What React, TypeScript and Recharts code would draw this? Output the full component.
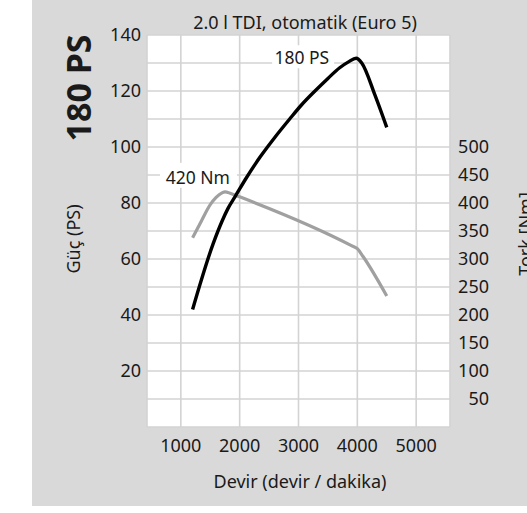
import { LineChart, Line, XAxis, YAxis, CartesianGrid, LabelList } from "recharts";

const title = "2.0 l TDI, otomatik (Euro 5)";
const badge = "180 PS";
const xLabel = "Devir (devir / dakika)";
const leftLabel = "Güç (PS)";
const rightLabel = "Tork [Nm]";

const rpmTicks = [1000, 2000, 3000, 4000, 5000];
const psTicks = [0, 10, 20, 30, 40, 50, 60, 70, 80, 90, 100, 110, 120, 130, 140];
const nmTicks = [50, 100, 150, 200, 250, 300, 350, 400, 450, 500];

const powerRpm = [1200, 1550, 1700, 1800, 1920, 2120, 2350, 2600, 2850, 3050, 3280, 3500, 3700, 3850, 3980, 4075, 4300, 4500];
const powerPs = [42, 65.5, 73.5, 78, 82.2, 89.2, 96.5, 103.5, 110, 115, 120, 124.5, 128.3, 130.4, 131.7, 130, 118.5, 107];
const powerPeakLabel = "180 PS";
const powerPeakIdx = 14;

const torqueRpm = [1200, 1350, 1500, 1600, 1700, 1750, 1850, 2000, 3900, 4000, 4100, 4500];
const torqueNm = [338, 368, 397, 410, 418, 420, 417, 411, 324, 318.5, 304, 234];
const torquePeakLabel = "420 Nm";
const torquePeakIdx = 5;

const powerData = powerRpm.map((rpm, i) => ({ rpm, ps: powerPs[i] }));
const torqueData = torqueRpm.map((rpm, i) => ({ rpm, nm: torqueNm[i] }));

const font = "'Noto Sans', sans-serif";
const ink = "#1a1a1a";

const LeftTick = (props: any) => {
  const v = props.payload.value;
  if (v === 0 || v % 20 !== 0) return <g />;
  return (
    <text x={props.x} y={props.y} dy="0.355em" textAnchor="end" fontSize={18} fontFamily={font} fill={ink}>
      {v}
    </text>
  );
};

const RightTick = (props: any) => (
  <text x={props.x} y={props.y} dy="0.355em" textAnchor="end" fontSize={18} fontFamily={font} fill={ink}>
    {props.payload.value}
  </text>
);

const BottomTick = (props: any) => (
  <text x={props.x} y={props.y + 25} textAnchor="middle" fontSize={18} fontFamily={font} fill={ink}>
    {props.payload.value}
  </text>
);

const PowerLabel = (props: any) => {
  if (props.index !== powerPeakIdx) return null;
  const { x, y } = props;
  return (
    <g>
      <rect x={x - 84} y={y - 13} width={62} height={23} fill="#fff" />
      <text x={x - 27} y={y + 6} textAnchor="end" fontSize={17.5} fontFamily={font} fill={ink}>
        {powerPeakLabel}
      </text>
    </g>
  );
};

const TorqueLabel = (props: any) => {
  if (props.index !== torquePeakIdx) return null;
  const { x, y } = props;
  return (
    <g>
      <rect x={x - 65} y={y - 29} width={77} height={25} fill="#fff" />
      <text x={x + 5} y={y - 8} textAnchor="end" fontSize={17.5} fontFamily={font} fill={ink}>
        {torquePeakLabel}
      </text>
    </g>
  );
};

export default function App() {
  return (
    <div style={{ position: "absolute", left: 0, top: 0, width: 527, height: 513, fontFamily: font }}>
      <div style={{ position: "absolute", left: 32, top: 0, width: 495, height: 506, background: "#d9d9d9" }} />
      <LineChart
        width={527}
        height={513}
        margin={{ top: 35, right: 0, bottom: 0, left: 0 }}
        style={{ position: "absolute", left: 0, top: 0 }}
      >
        <CartesianGrid yAxisId="ps" fill="#fff" stroke="#d3d3d3" strokeWidth={1.6} />
        <XAxis
          dataKey="rpm"
          type="number"
          domain={[425, 5575]}
          ticks={rpmTicks}
          interval={0}
          height={86}
          axisLine={false}
          tickLine={false}
          tickSize={0}
          tickMargin={0}
          tick={<BottomTick />}
          allowDataOverflow
        />
        <YAxis
          yAxisId="ps"
          domain={[0, 140]}
          ticks={psTicks}
          interval={0}
          width={147}
          axisLine={false}
          tickLine={false}
          tickSize={0}
          tickMargin={6}
          tick={<LeftTick />}
        />
        <YAxis
          yAxisId="nm"
          orientation="right"
          domain={[0, 700]}
          ticks={nmTicks}
          interval={0}
          width={77}
          axisLine={false}
          tickLine={false}
          tickSize={0}
          tickMargin={39}
          tick={<RightTick />}
        />
        <Line
          data={torqueData}
          yAxisId="nm"
          dataKey="nm"
          type="monotone"
          stroke="#a0a0a0"
          strokeWidth={3.2}
          dot={false}
          isAnimationActive={false}
        >
          <LabelList dataKey="nm" content={<TorqueLabel />} />
        </Line>
        <Line
          data={powerData}
          yAxisId="ps"
          dataKey="ps"
          type="monotone"
          stroke="#000"
          strokeWidth={3.4}
          dot={false}
          isAnimationActive={false}
        >
          <LabelList dataKey="ps" content={<PowerLabel />} />
        </Line>
      </LineChart>
      <svg width={527} height={513} style={{ position: "absolute", left: 0, top: 0, pointerEvents: "none" }}>
        <text x={305} y={29} textAnchor="middle" fontSize={18} fontFamily={font} fill={ink}>
          {title}
        </text>
        <text transform="translate(91,88) rotate(-90)" textAnchor="middle" fontSize={34} fontWeight="bold" fontFamily={font} fill={ink}>
          {badge}
        </text>
        <text transform="translate(80,239) rotate(-90)" textAnchor="middle" fontSize={18} fontFamily={font} fill={ink}>
          {leftLabel}
        </text>
        <text transform="translate(532,234) rotate(-90)" textAnchor="middle" fontSize={18} fontFamily={font} fill={ink}>
          {rightLabel}
        </text>
        <text x={300} y={488} textAnchor="middle" fontSize={18} fontFamily={font} fill={ink}>
          {xLabel}
        </text>
      </svg>
    </div>
  );
}
